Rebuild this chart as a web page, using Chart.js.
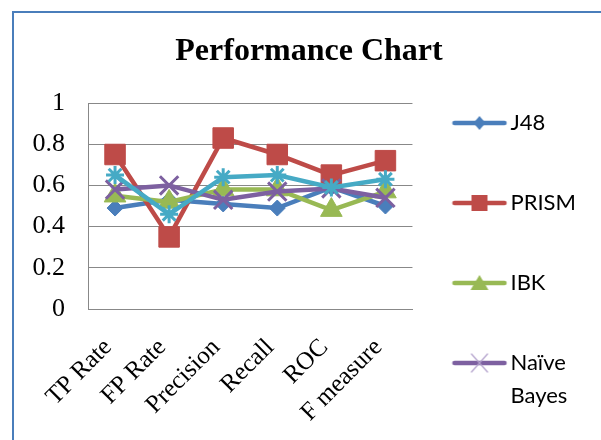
<!DOCTYPE html>
<html>

<head>
    <meta charset="utf-8">
    <title>Performance Chart</title>
    <script src="https://cdn.jsdelivr.net/npm/chart.js"></script>
    <style>
        html, body { margin: 0; padding: 0; background: #fff; overflow: hidden; }
        #box {
            position: absolute;
            left: 12px;
            top: 11px;
            width: 640px;
            height: 600px;
            border: 2px solid #4a7ebb;
        }
        #perfChart { display: block; }
    </style>
</head>

<body>
    <div id="box">
        <canvas id="perfChart"></canvas>
    </div>
    <script>
        // chart data
        const categories = ['TP Rate', 'FP Rate', 'Precision', 'Recall', 'ROC', 'F measure'];
        const seriesNames = ['J48', 'PRISM', 'IBK', 'Naïve Bayes', 'Decision Table'];
        const j48 = [0.49, 0.53, 0.51, 0.49, 0.59, 0.50];
        const prism = [0.75, 0.35, 0.83, 0.75, 0.65, 0.72];
        const ibk = [0.55, 0.52, 0.58, 0.58, 0.48, 0.57];
        const naiveBayes = [0.58, 0.60, 0.53, 0.57, 0.585, 0.54];
        const decisionTable = [0.65, 0.46, 0.64, 0.65, 0.59, 0.63];
        const yTicks = [0, 0.2, 0.4, 0.6, 0.8, 1];

        const colors = ['#4a7ebb', '#be4b48', '#98b954', '#7d60a0', '#46aac5'];
        const markers = ['rectRot', 'rect', 'triangle', 'crossRot', 'star'];
        const markerSize = [8, 14.5, 12.5, 13, 9];
        const values = [j48, prism, ibk, naiveBayes, decisionTable];

        const H = 600;
        const plotRight = 398;
        const plotBottom = 296;
        const legendPad = 58;
        const legendFont = { family: 'Lato', size: 22, lineHeight: 1.5 };

        function legendText(name) {
            return name.indexOf(' ') > 0 ? name.split(' ') : name;
        }

        // legend width = padding + icon + gap + widest text + 10, so the plot ends at plotRight
        const meas = document.createElement('canvas').getContext('2d');
        meas.font = 'normal 22px Lato';
        const widest = Math.max(...seriesNames.map(n => {
            const t = legendText(n);
            const s = Array.isArray(t) ? t.reduce((a, b) => a.length > b.length ? a : b) : t;
            return meas.measureText(s).width;
        }));
        const W = Math.round(plotRight + legendPad + 29 + 11 + widest + 10);
        const cv = document.getElementById('perfChart');
        cv.width = W;
        cv.height = H;

        // small line + marker picture for the legend
        function legendIcon(i) {
            const c = document.createElement('canvas');
            c.width = 67;
            c.height = 24;
            const g = c.getContext('2d');
            g.strokeStyle = colors[i];
            g.fillStyle = colors[i];
            g.lineWidth = 4.5;
            g.lineCap = 'round';
            g.beginPath();
            g.moveTo(3, 12);
            g.lineTo(53, 12);
            g.stroke();
            const x = 28, y = 12;
            g.beginPath();
            if (markers[i] === 'rectRot') {
                g.moveTo(x, y - 7); g.lineTo(x + 6, y); g.lineTo(x, y + 7); g.lineTo(x - 6, y);
                g.closePath(); g.fill();
            } else if (markers[i] === 'rect') {
                g.rect(x - 8, y - 8, 16, 16); g.fill();
            } else if (markers[i] === 'triangle') {
                g.moveTo(x, y - 8); g.lineTo(x + 9, y + 7); g.lineTo(x - 9, y + 7);
                g.closePath(); g.fill();
            } else if (markers[i] === 'crossRot') {
                g.strokeStyle = '#b3a2cc';
                g.lineWidth = 1.2;
                g.moveTo(x - 8, y - 9); g.lineTo(x + 8, y + 9);
                g.moveTo(x + 8, y - 9); g.lineTo(x - 8, y + 9);
                g.stroke();
            } else {
                g.lineWidth = 2;
                g.moveTo(x, y - 9); g.lineTo(x, y + 9);
                g.moveTo(x - 7, y - 7); g.lineTo(x + 7, y + 7);
                g.moveTo(x + 7, y - 7); g.lineTo(x - 7, y + 7);
                g.stroke();
            }
            return c;
        }

        const datasets = seriesNames.map((name, i) => ({
            label: name,
            data: values[i],
            borderColor: colors[i],
            backgroundColor: colors[i],
            borderWidth: 4.5,
            pointStyle: markers[i],
            pointRadius: markerSize[i],
            pointBorderWidth: (i >= 3) ? 3 : 1,
            pointBackgroundColor: colors[i],
            pointBorderColor: colors[i],
            tension: 0,
            order: seriesNames.length - i
        }));

        new Chart(cv, {
            type: 'line',
            data: { labels: categories, datasets: datasets },
            options: {
                responsive: false,
                animation: false,
                layout: { padding: 0 },
                plugins: {
                    title: {
                        display: true,
                        text: 'Performance Chart',
                        color: '#000',
                        font: { family: 'Liberation Serif', size: 32, weight: 'bold', lineHeight: 1.2 },
                        padding: { top: 20, bottom: 31.6 }
                    },
                    legend: {
                        position: 'right',
                        align: 'start',
                        maxWidth: 400,
                        title: {
                            display: true,
                            text: ' ',
                            font: { size: 1, lineHeight: 1 },
                            padding: { top: 40, bottom: 0 }
                        },
                        labels: {
                            usePointStyle: true,
                            pointStyleWidth: 29,
                            padding: legendPad,
                            color: '#000',
                            font: legendFont,
                            sort: (a, b) => a.datasetIndex - b.datasetIndex,
                            generateLabels: function (chart) {
                                const items = Chart.defaults.plugins.legend.labels.generateLabels(chart);
                                items.forEach(item => {
                                    item.pointStyle = legendIcon(item.datasetIndex);
                                    item.text = legendText(seriesNames[item.datasetIndex]);
                                    item.lineWidth = 0;
                                });
                                return items;
                            }
                        }
                    },
                    tooltip: { enabled: false }
                },
                scales: {
                    x: {
                        offset: true,
                        grid: { display: false },
                        border: { display: true, color: '#888', width: 1 },
                        ticks: {
                            color: '#000',
                            font: { family: 'Liberation Serif', size: 25 },
                            minRotation: 45,
                            maxRotation: 45,
                            autoSkip: false,
                            labelOffset: -7,
                            padding: 16
                        },
                        afterFit: function (scale) { scale.height = H - plotBottom; }
                    },
                    y: {
                        min: 0,
                        max: 1,
                        afterBuildTicks: function (scale) { scale.ticks = yTicks.map(v => ({ value: v })); },
                        grid: { color: '#888', drawTicks: false },
                        border: { display: true, color: '#888', width: 1 },
                        ticks: {
                            color: '#000',
                            font: { family: 'Liberation Serif', size: 26 },
                            padding: 23,
                            callback: v => String(v)
                        },
                        afterFit: function (scale) { scale.width = 74; }
                    }
                }
            }
        });
    </script>
</body>

</html>
